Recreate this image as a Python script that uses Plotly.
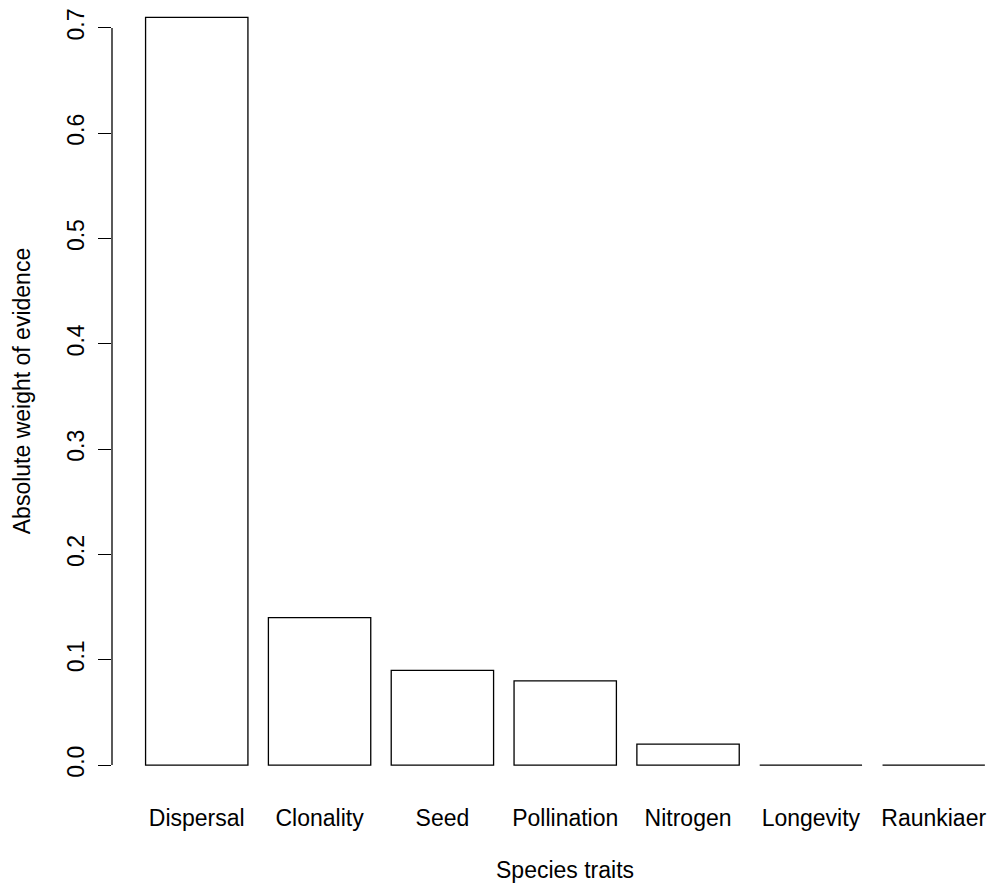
import numpy as np
import plotly.graph_objects as go

categories = ["Dispersal", "Clonality", "Seed", "Pollination", "Nitrogen", "Longevity", "Raunkiaer"]
weights = [0.71, 0.14, 0.09, 0.08, 0.02, 0.0, 0.0]
ytick_vals = [0.0, 0.1, 0.2, 0.3, 0.4, 0.5, 0.6, 0.7]
ytick_text = ["0.0", "0.1", "0.2", "0.3", "0.4", "0.5", "0.6", "0.7"]
x_title = "Species traits"
y_title = "Absolute weight of evidence"

# R barplot geometry: width 1, space 0.2
bar_w = 1.0
space = 0.2
centers = [space + bar_w / 2 + i * (bar_w + space) for i in range(len(categories))]
xlim = (space, len(categories) * (bar_w + space))
xext = 0.04 * (xlim[1] - xlim[0])
ylim = (0.0, max(weights))
yext = 0.04 * (ylim[1] - ylim[0])

FONT = "Liberation Sans, Arial, Helvetica, sans-serif"
fs = 23

fig = go.Figure()
fig.add_trace(go.Bar(
    x=centers, y=weights, width=bar_w,
    marker=dict(color="white", line=dict(color="black", width=1.3)),
    showlegend=False, hoverinfo="skip",
))

fig.update_layout(
    width=990, height=884,
    margin=dict(l=112, r=0, t=0, b=89),
    paper_bgcolor="white", plot_bgcolor="white",
    font=dict(family=FONT, size=fs, color="black"),
    xaxis=dict(
        range=[xlim[0] - xext, 8.45],
        tickvals=centers, ticktext=categories,
        showgrid=False, zeroline=False, showline=False, ticks="",
        ticklabelstandoff=7,
        tickfont=dict(family=FONT, size=fs, color="black"),
    ),
    yaxis=dict(
        range=[ylim[0] - yext, 0.7265],
        tickvals=ytick_vals, ticktext=ytick_text,
        tickangle=-90,
        showgrid=False, zeroline=False, showline=False,
        ticks="outside", ticklen=13, tickwidth=1.3, tickcolor="black",
        ticklabelstandoff=5,
        tickfont=dict(family=FONT, size=fs, color="black"),
    ),
    shapes=[dict(
        type="line", xref="paper", yref="y",
        x0=0, x1=0, y0=ytick_vals[0], y1=ytick_vals[-1],
        line=dict(color="black", width=1.3),
    )],
    annotations=[
        dict(text=x_title, xref="x", yref="paper",
             x=(xlim[0] - xext + xlim[1] + xext) / 2, y=-0.0943,
             xanchor="center", yanchor="middle", showarrow=False,
             font=dict(family=FONT, size=fs, color="black")),
        dict(text=y_title, xref="paper", yref="y",
             x=-90 / 878, y=(ylim[0] - yext + ylim[1] + yext) / 2,
             xanchor="center", yanchor="middle", textangle=-90, showarrow=False,
             font=dict(family=FONT, size=fs, color="black")),
    ],
)

fig.write_html("out.html")
